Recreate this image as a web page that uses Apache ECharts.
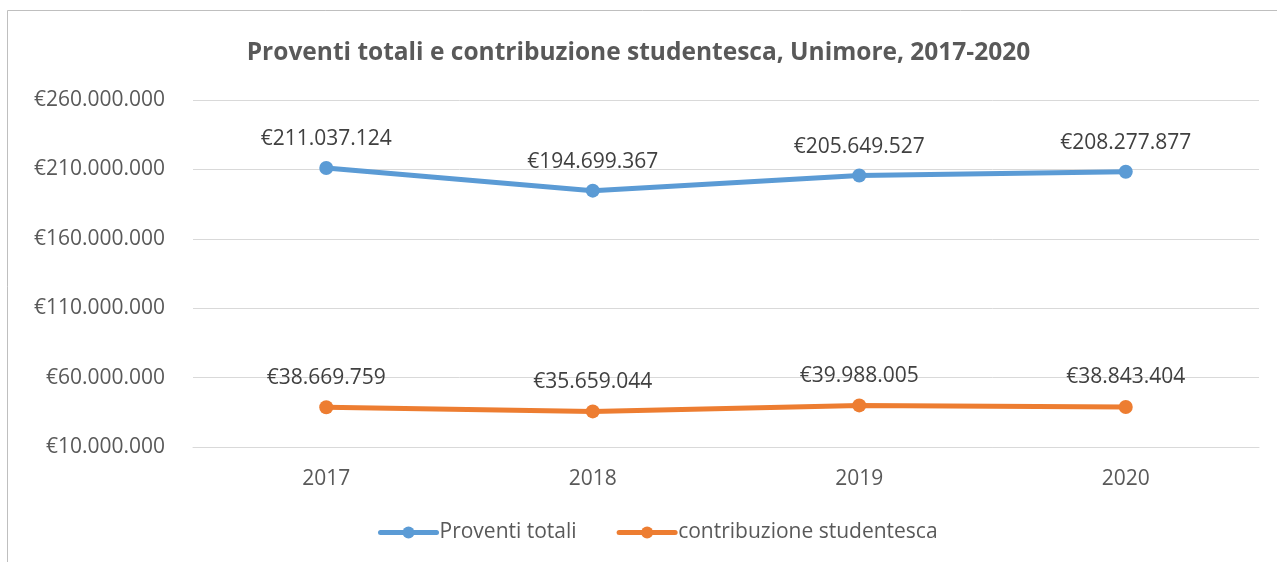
<!DOCTYPE html>
<html style="height: 100%">
<head>
<meta charset="utf-8">
</head>
<body style="height: 100%; margin: 0; background: #fff">
<div id="container" style="width: 1277px; height: 562px"></div>
<script src="https://cdn.jsdelivr.net/npm/echarts@6/dist/echarts.min.js"></script>
<script>
// dati
var anni = ['2017', '2018', '2019', '2020'];
var proventiTotali = [211037124, 194699367, 205649527, 208277877];
var contribuzioneStudentesca = [38669759, 35659044, 39988005, 38843404];
var asseMin = 10000000;
var asseMax = 260000000;
var asseStep = 50000000;

var font = '"Open Sans", "Noto Sans", sans-serif';

function euro(v) {
    return '€' + String(Math.round(v)).replace(/\B(?=(\d{3})+(?!\d))/g, '.');
}

var myChart = echarts.init(document.getElementById('container'));

var option = {
    backgroundColor: '#fff',
    animation: false,
    title: {
        text: 'Proventi totali e contribuzione studentesca, Unimore, 2017-2020',
        left: 'center',
        top: 36,
        textStyle: {
            fontFamily: font,
            fontSize: 24.5,
            fontWeight: 'bold',
            color: '#595959'
        }
    },
    graphic: [{
        type: 'rect',
        shape: { x: 7.5, y: 10.5, width: 1400, height: 700 },
        style: { fill: 'none', stroke: '#bfbfbf', lineWidth: 1 },
        silent: true
    }],
    legend: {
        bottom: 14,
        left: 373,
        itemWidth: 56,
        itemHeight: 15,
        itemGap: 40,
        lineStyle: { width: 5, cap: 'round' },
        textStyle: { fontFamily: font, fontSize: 21, color: '#595959', padding: [0, 0, 0, -2] },
        data: ['Proventi totali', 'contribuzione studentesca']
    },
    grid: {
        left: 193,
        right: 18,
        top: 100,
        bottom: 115,
        containLabel: false
    },
    xAxis: {
        type: 'category',
        data: anni,
        boundaryGap: true,
        axisLine: { lineStyle: { color: '#d9d9d9', width: 1 } },
        axisTick: { show: false },
        axisLabel: { fontFamily: font, fontSize: 21, color: '#595959', margin: 22 }
    },
    yAxis: {
        type: 'value',
        min: asseMin,
        max: asseMax,
        interval: asseStep,
        axisLine: { show: false },
        axisTick: { show: false },
        splitLine: { lineStyle: { color: '#d9d9d9', width: 1 } },
        axisLabel: {
            fontFamily: font,
            fontSize: 21,
            color: '#595959',
            margin: 28,
            formatter: euro
        }
    },
    series: [{
        name: 'Proventi totali',
        type: 'line',
        data: proventiTotali,
        symbol: 'circle',
        symbolSize: 14,
        lineStyle: { width: 5, color: '#5b9bd5', cap: 'round' },
        itemStyle: { color: '#5b9bd5' },
        label: {
            show: true,
            position: 'top',
            distance: 11,
            fontFamily: font,
            fontSize: 21,
            color: '#404040',
            formatter: function (p) { return euro(p.value); }
        }
    }, {
        name: 'contribuzione studentesca',
        type: 'line',
        data: contribuzioneStudentesca,
        symbol: 'circle',
        symbolSize: 14,
        lineStyle: { width: 5, color: '#ed7d31', cap: 'round' },
        itemStyle: { color: '#ed7d31' },
        label: {
            show: true,
            position: 'top',
            distance: 12,
            fontFamily: font,
            fontSize: 21,
            color: '#404040',
            formatter: function (p) { return euro(p.value); }
        }
    }]
};

myChart.setOption(option);
</script>
</body>
</html>
